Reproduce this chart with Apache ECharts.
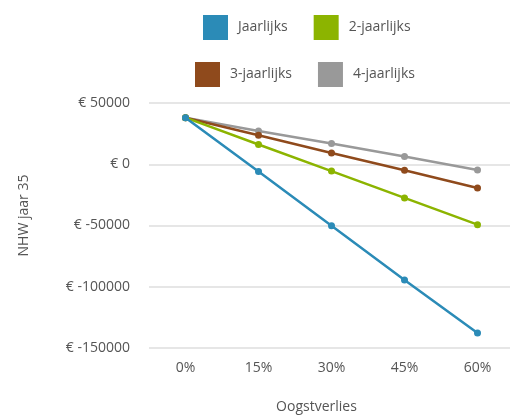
<!DOCTYPE html>
<html>
<head>
<meta charset="utf-8">
<script src="https://cdn.jsdelivr.net/npm/echarts@6/dist/echarts.min.js"></script>
<style>
  html, body { margin: 0; padding: 0; background: #fff; }
  #chart { width: 510px; height: 415px; }
</style>
</head>
<body>
<div id="chart"></div>
<script>
const categories = ['0%', '15%', '30%', '45%', '60%']
const jaarlijks = [38000, -6000, -50200, -94500, -137800]
const tweeJaarlijks = [38000, 16100, -5600, -27500, -49300]
const drieJaarlijks = [38000, 23700, 9200, -4900, -19400]
const vierJaarlijks = [38000, 27200, 16900, 6300, -4700]
const yTicks = [-150000, -100000, -50000, 0, 50000]

const font = '"Open Sans", "Noto Sans", sans-serif'
const textColor = '#555'

const names = ['Jaarlijks', '2-jaarlijks', '3-jaarlijks', '4-jaarlijks']
const colors = ['#2b8bb7', '#8cb400', '#8f4a1c', '#999999']
const values = [jaarlijks, tweeJaarlijks, drieJaarlijks, vierJaarlijks]

const legendBase = {
  icon: 'rect',
  itemWidth: 25,
  itemHeight: 25,
  itemGap: 26,
  padding: 0,
  textStyle: { fontFamily: font, fontSize: 14, color: textColor, padding: [0, 0, 0, 5] }
}

const chart = echarts.init(document.getElementById('chart'))
chart.setOption({
  animation: false,
  color: colors,
  legend: [
    Object.assign({ data: names.slice(0, 2), left: 203, top: 15 }, legendBase),
    Object.assign({ data: names.slice(2, 4), left: 195, top: 62 }, legendBase)
  ],
  grid: { left: 149, top: 103, width: 365, height: 245, outerBoundsMode: 'none' },
  xAxis: {
    type: 'category',
    data: categories,
    boundaryGap: true,
    name: 'Oogstverlies',
    nameLocation: 'middle',
    nameGap: 52,
    nameTextStyle: { fontFamily: font, fontSize: 14, color: textColor, padding: [0, 30, 0, 0] },
    axisLine: { show: false },
    axisTick: { show: false },
    axisLabel: { fontFamily: font, fontSize: 14, color: textColor, margin: 13 }
  },
  yAxis: {
    type: 'value',
    min: yTicks[0],
    max: yTicks[yTicks.length - 1],
    interval: 50000,
    name: 'NHW jaar 35',
    nameLocation: 'middle',
    nameGap: 118,
    nameTextStyle: { fontFamily: font, fontSize: 14, color: textColor, padding: [0, 0, 0, 20] },
    axisLabel: {
      fontFamily: font, fontSize: 14, color: textColor, margin: 19,
      formatter: v => '€ ' + v
    },
    splitLine: { lineStyle: { color: '#e6e6e6', width: 2 } }
  },
  series: values.map((d, i) => ({
    name: names[i],
    type: 'line',
    data: d,
    symbol: 'circle',
    symbolSize: 7,
    lineStyle: { width: 2.5 },
    z: 10 - i
  }))
})
</script>
</body>
</html>
